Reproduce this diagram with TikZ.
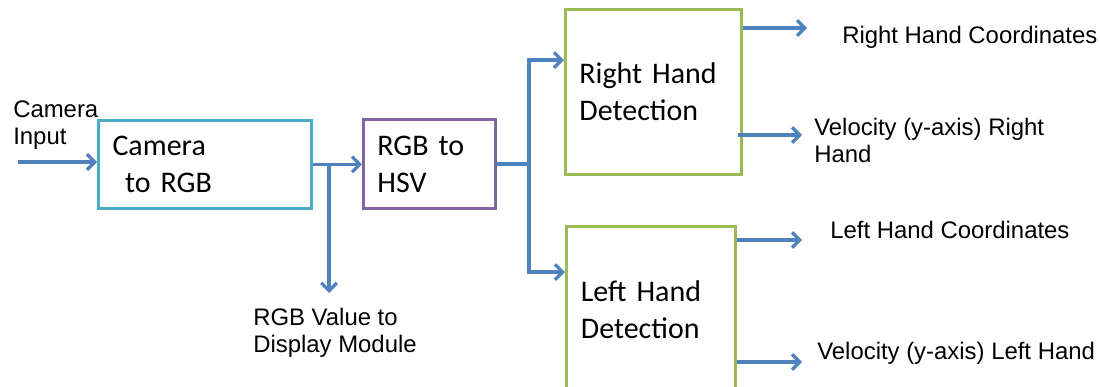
\documentclass[tikz,border=0pt]{standalone}
\usepackage{fontspec}
\setmainfont{Liberation Sans}
\newfontfamily\boxfont{Carlito}
\usepackage{xcolor}
\usepackage{tikz}
\usetikzlibrary{arrows.meta}
\definecolor{flowblue}{RGB}{79,129,189}
\definecolor{camcyan}{RGB}{75,172,198}
\definecolor{hsvpurple}{RGB}{128,100,162}
\definecolor{detgreen}{RGB}{155,187,89}
\tikzset{blk/.style={draw,line width=2pt,anchor=north west,align=left,inner xsep=10pt,inner ysep=0pt,font=\boxfont\fontsize{21.3}{26.3}\selectfont},
  lbl/.style={anchor=north west,align=left,inner sep=0pt,font=\fontsize{17}{19.2}\selectfont},
  wire/.style={draw=flowblue,line width=2.3pt},
  flow/.style={wire,-{Straight Barb[length=5.5pt,width=11pt,line width=2.3pt]}}}

\begin{document}
\begin{tikzpicture}[x=0.025cm,y=-0.025cm]
        \useasboundingbox (0,0) rectangle (1100,387);

        \node[blk,draw=camcyan,minimum width=5.325cm,minimum height=2.2cm,text width=4.62cm] (cam) at (97,119) {Camera\\\hspace*{9pt}to RGB};
        \node[blk,draw=hsvpurple,minimum width=3.3cm,minimum height=2.225cm,text width=2.6cm] (hsv) at (362,118) {RGB to\\HSV};
        \node[blk,draw=detgreen,minimum width=4.4cm,minimum height=4.125cm,text width=3.7cm] (rh) at (564,8) {Right Hand\\Detection};
        \node[blk,draw=detgreen,minimum width=4.225cm,minimum height=4.175cm,text width=3.5cm] (lh) at (565,225) {Left Hand\\Detection};

        \node[lbl] (caminlbl) at (13,101) {Camera\\Input};
        \node[lbl] (displbl) at (253,308) {RGB Value to\\Display Module};
        \node[lbl] (rhclbl) at (842,26) {Right Hand Coordinates};
        \node[lbl] (rhvlbl) at (814,118) {Velocity (y-axis) Right\\Hand};
        \node[lbl] (lhclbl) at (830,221) {Left Hand Coordinates};
        \node[lbl] (lhvlbl) at (817,342) {Velocity (y-axis) Left Hand};

        \coordinate (camin) at (18,162);
        \coordinate (disp) at (329,293);
        \coordinate (fork) at (529,0);
        \coordinate (rhc) at (807,28);
        \coordinate (rhv) at (802,135);
        \coordinate (lhc) at (802,240);
        \coordinate (lhv) at (802,362);

        \draw [flow] (camin) -- (camin -| cam.west);
        \draw [flow] (cam.east) -- (cam.east -| hsv.west);
        \draw [flow] (disp |- cam.east) -- (disp);
        \draw [wire] (hsv.east) -- (hsv.east -| fork);
        \draw [flow] (hsv.east -| fork) |- ([yshift=-1.3cm]rh.north west);
        \draw [flow] (hsv.east -| fork) |- ([yshift=-1.175cm]lh.north west);
        \draw [flow] (rh.east |- rhc) -- (rhc);
        \draw [flow] ([xshift=-0.125cm]rh.east |- rhv) -- (rhv);
        \draw [flow] (lh.east |- lhc) -- (lhc);
        \draw [flow] (lh.east |- lhv) -- (lhv);
    \end{tikzpicture}
\end{document}
